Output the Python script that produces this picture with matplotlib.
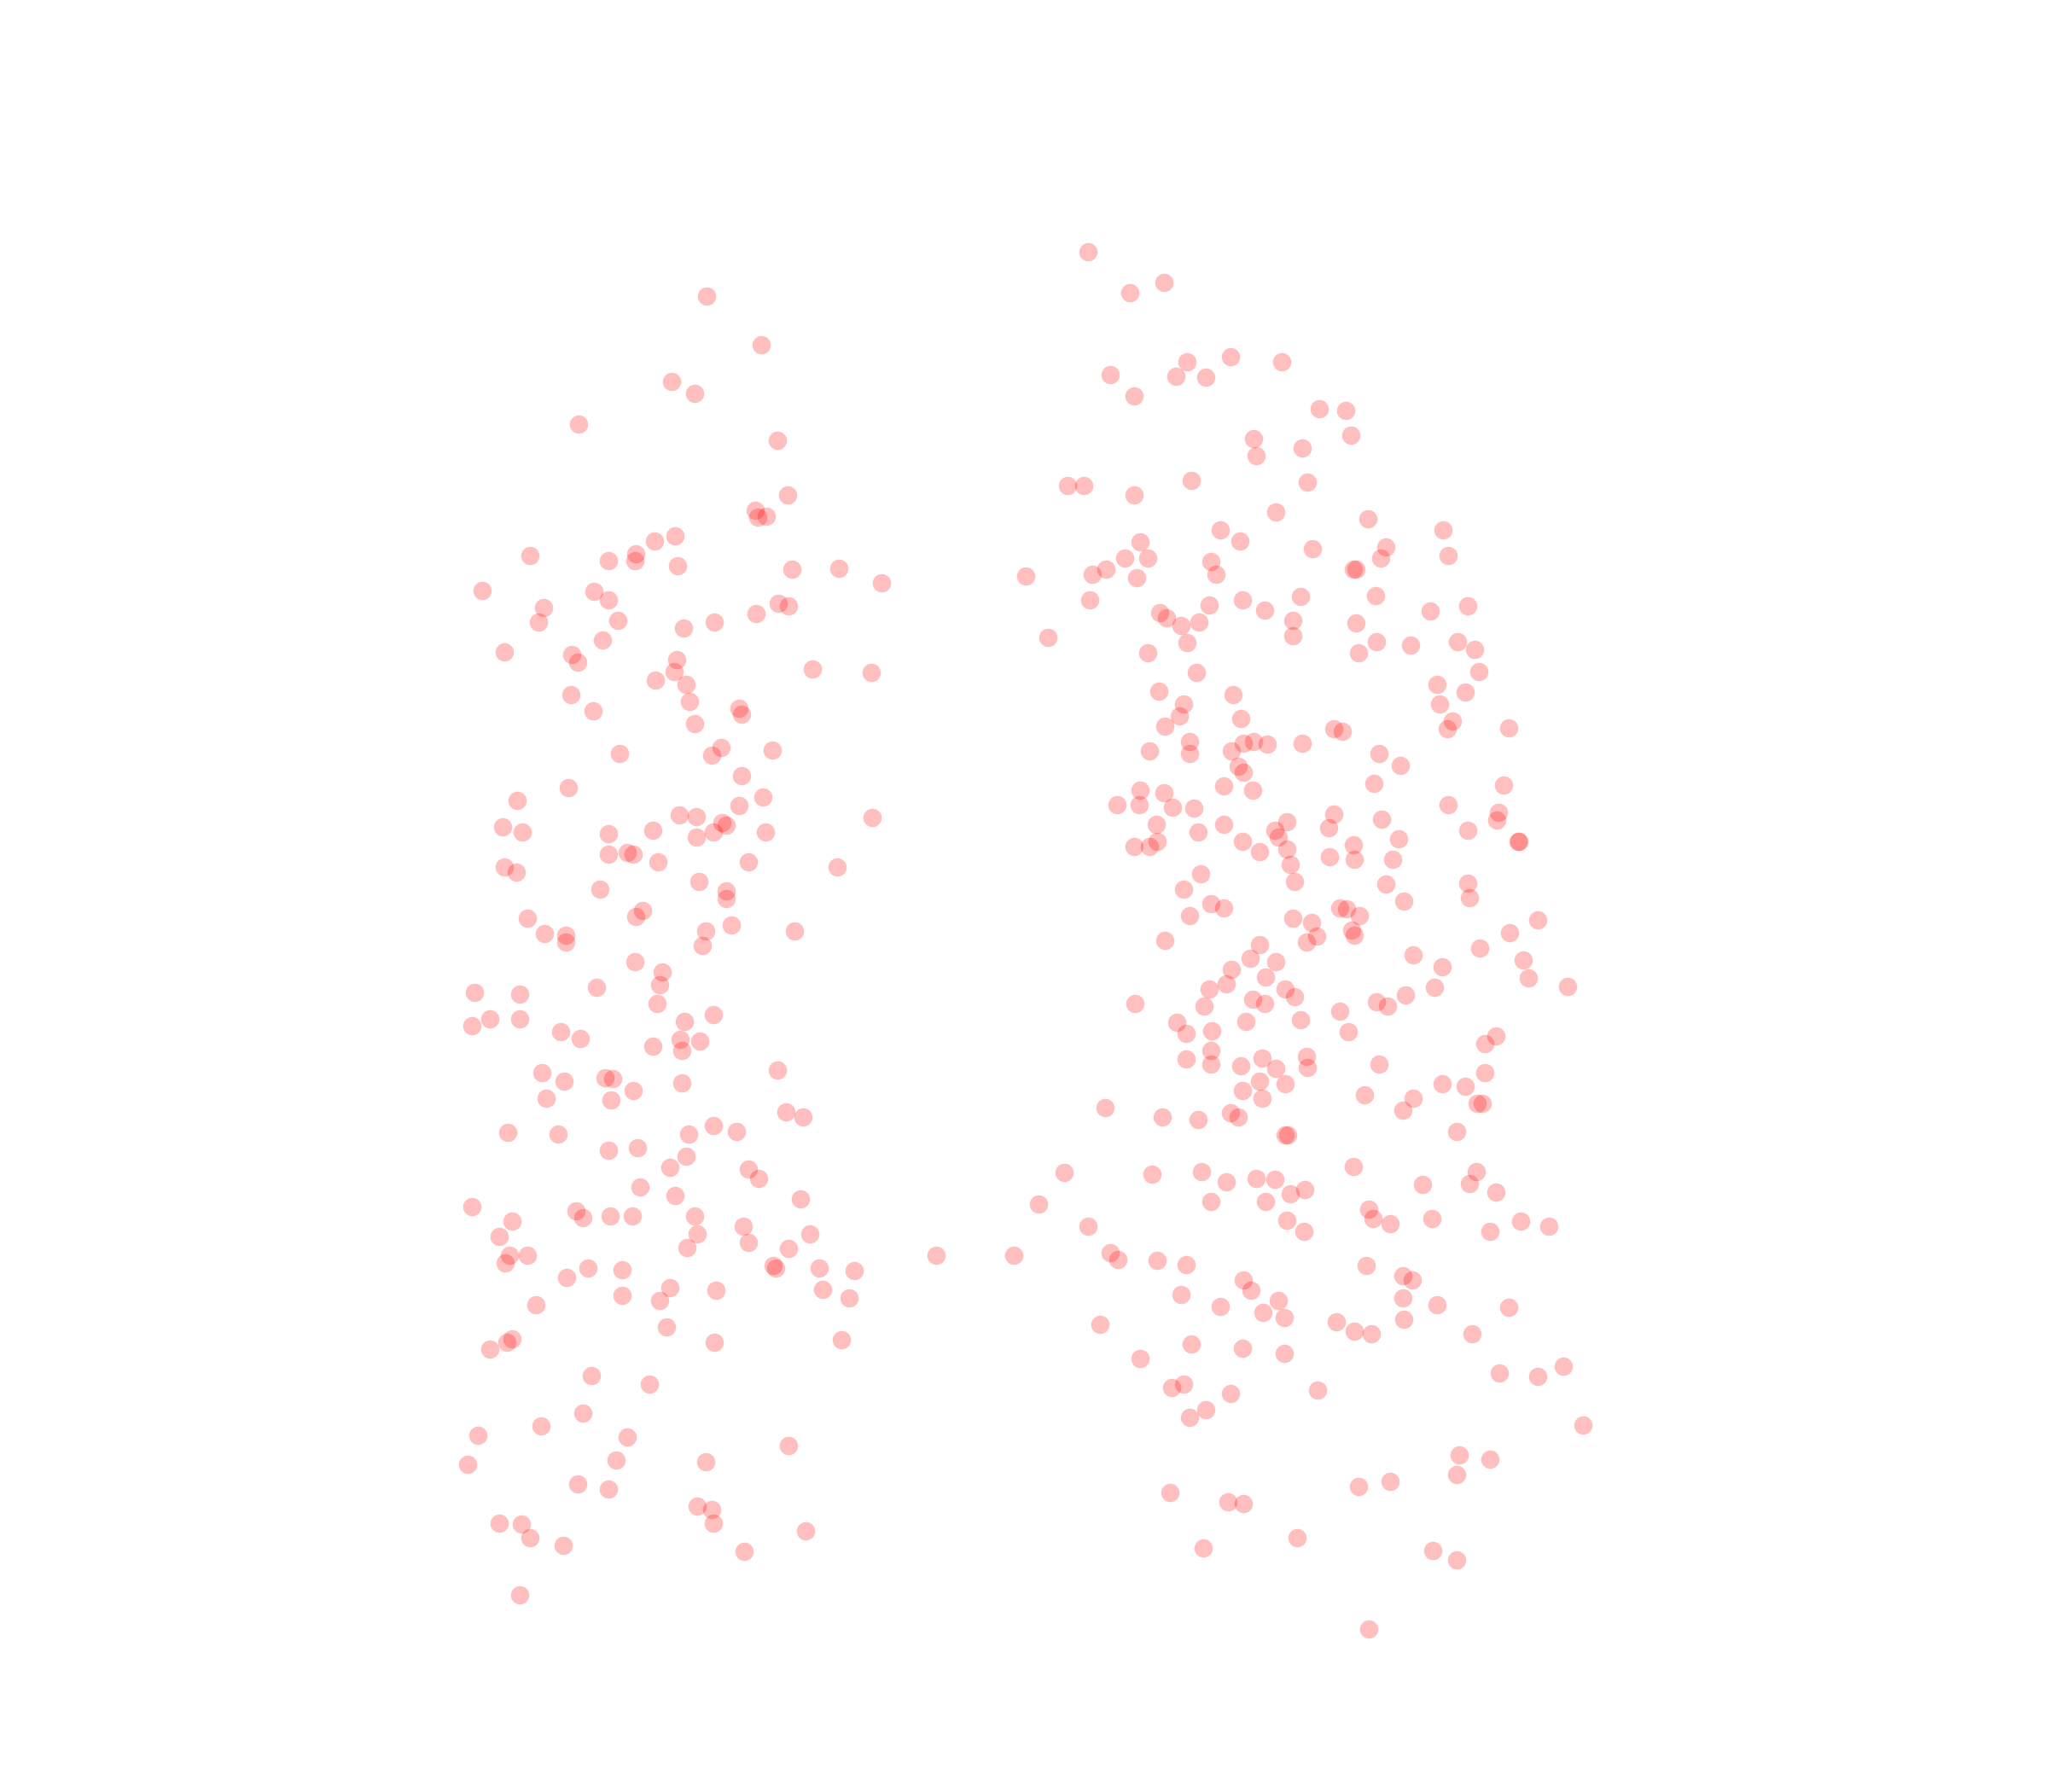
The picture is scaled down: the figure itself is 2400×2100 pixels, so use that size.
import matplotlib
matplotlib.use("Agg")
import matplotlib.pyplot as plt

# points (x, y), left group then right group
left_x = [541,583,514,532,443,595,603,578,580,587,517,501,487,486,466,519,406,606,642,675,369,455,466,416,596,604,579,412,473,547,523,461,386,438,442,518,516,502,525,622,667,437,528,454,566,568,532,552,545,474,591,568,435,396,584,566,520,533,668,385,400,466,500,553,556,546,533,586,466,480,485,504,573,386,395,641,535,459,556,556,492,487,404,560,417,433,433,540,538,608,486,507,505,457,363,398,503,375,361,398,546,524,429,444,521,536,500,522,595,415,432,463,469,485,522,418,468,602,615,546,564,389,427,527,466,488,525,513,573,581,490,517,613,361,441,446,467,484,532,392,569,534,620,382,573,526,604,390,404,387,450,476,434,592,594,627,654,717,513,548,630,476,505,650,410,510,392,388,375,547,644,453,497,446,414,366,480,604,472,358,540,442,466,534,545,546,382,399,406,431,617,570,398]
left_y = [227,264,292,301,325,337,379,391,396,395,410,414,424,429,429,433,425,436,435,446,452,453,459,465,462,464,470,476,475,476,481,490,499,501,507,505,514,521,524,512,515,532,537,544,542,547,554,572,578,577,574,594,603,613,610,617,624,625,626,633,637,638,636,630,632,637,641,637,654,653,654,660,660,664,668,664,675,681,682,688,697,702,703,708,715,716,721,713,724,713,736,744,754,756,760,761,768,780,785,780,777,782,790,795,796,797,801,804,819,821,828,825,826,835,829,841,842,851,855,862,866,867,868,868,881,879,885,894,895,902,909,915,918,924,927,932,931,931,931,935,939,945,945,947,951,955,956,961,961,967,971,972,978,969,971,971,973,961,986,988,987,992,996,994,999,1016,1025,1028,1033,1028,1026,1053,1060,1082,1092,1099,1100,1107,1118,1121,1119,1136,1140,1153,1156,1166,1166,1167,1177,1183,1172,1188,1221]

right_x = [833,865,891,909,942,981,850,900,923,868,1010,1030,1034,960,962,997,1001,817,830,868,912,977,1047,934,949,1105,873,861,879,927,1005,1061,1057,1109,847,836,870,931,1036,1038,785,834,951,926,996,1053,968,888,893,904,918,990,1038,1095,1124,802,990,909,879,1054,1080,1116,1129,1040,1132,916,887,944,1100,1122,906,1102,903,950,892,1112,1108,1155,1021,1028,911,952,960,970,997,880,911,943,1056,1072,948,952,937,959,1052,1151,873,891,855,872,898,914,1109,1147,1146,1021,985,1058,937,885,976,1017,1124,917,979,1071,1162,1163,951,886,868,880,985,1036,964,1018,1037,1066,988,919,991,1061,1124,906,1125,1075,927,937,1026,1031,1041,911,990,1004,1177,1035,1037,1008,1000,892,1156,964,1133,1082,957,977,1166,943,1104,969,1170,939,926,984,1098,1200,991,1076,959,968,1054,1062,869,922,1026,901,954,996,908,928,1032,1145,1137,927,966,1000,908,927,950,977,1001,1056,1137,964,984,1104,1122,951,966,1045,1082,1131,1135,1074,846,942,948,890,917,1115,984,986,1036,815,882,920,939,962,976,1130,1125,1089,1145,999,988,927,969,795,1048,1051,1064,1096,985,998,833,1141,1164,1186,776,850,856,886,908,1046,1074,1081,952,958,904,979,1074,934,967,983,1100,1155,842,1023,1037,1050,1075,1127,912,951,983,873,1148,1177,1197,897,906,942,1009,923,911,1212,1117,1141,1115,1064,1040,896,940,952,993,921,1097,1115,1048]
right_y = [193,224,216,277,273,277,287,288,289,303,313,314,333,336,349,343,369,372,372,379,368,392,397,406,414,406,415,427,427,430,420,419,427,425,436,440,442,440,436,436,441,459,459,463,457,456,467,469,473,479,476,475,477,468,464,488,487,492,500,491,494,491,497,500,514,515,529,532,524,530,539,539,548,550,556,552,558,557,558,560,568,569,568,570,569,575,577,575,577,586,587,591,602,605,600,601,605,607,616,616,618,619,616,622,628,623,629,627,631,631,636,634,636,637,641,642,644,644,644,644,648,648,650,647,652,656,658,658,662,669,675,677,676,681,687,690,692,695,695,696,701,701,703,706,704,712,716,717,721,720,714,723,726,731,734,736,735,742,740,748,749,753,757,757,756,755,763,762,765,768,767,770,768,770,774,783,782,781,791,789,790,793,799,804,810,809,811,815,816,818,817,815,821,828,830,830,832,835,841,838,841,845,845,850,848,852,855,855,857,866,869,869,893,898,899,897,905,902,903,897,906,907,913,911,914,920,920,922,926,933,937,933,934,943,939,943,935,939,961,959,964,965,968,969,977,980,980,988,991,996,994,1000,1005,1009,999,1001,1014,1012,1019,1021,1010,1021,1029,1032,1036,1040,1051,1054,1046,1062,1060,1067,1064,1079,1085,1091,1114,1117,1129,1134,1138,1143,1150,1151,1177,1185,1187,1194,1247]

fig = plt.figure(figsize=(24, 21), dpi=100)
ax = fig.add_axes([0, 0, 1, 1])
ax.scatter(left_x + right_x, left_y + right_y, s=240, c='red', alpha=0.25, linewidths=0)
ax.set_xlim(0, 1568)
ax.set_ylim(1372, 0)
ax.axis('off')
fig.savefig('out.png', dpi=100)
